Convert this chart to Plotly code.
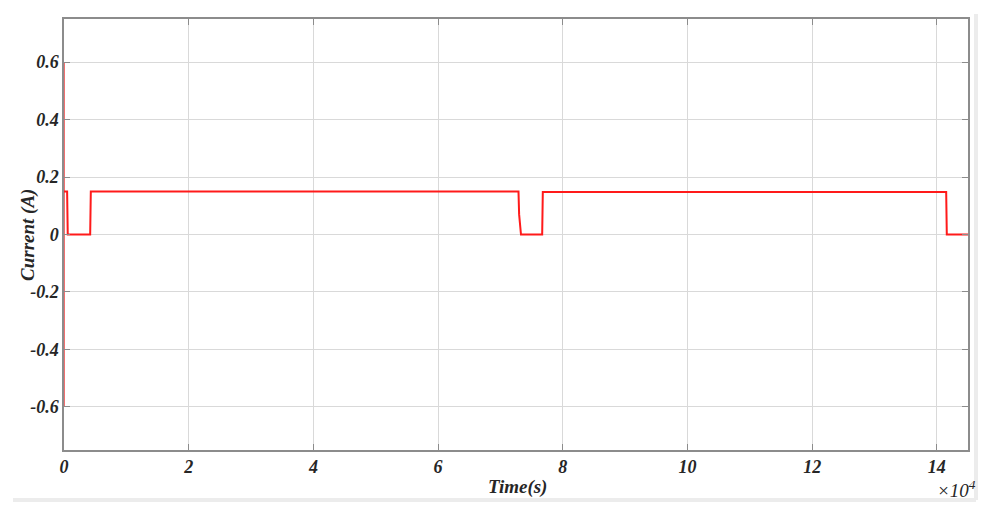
import plotly.graph_objects as go

# Time in units of 1e4 s, current in A
spike_time = [0, 0, 0]
spike_current = [0.6, -0.6, 0.15]

time_1e4 = [0, 0.05, 0.06, 0.42, 0.43, 7.29, 7.30, 7.32, 7.33, 7.67, 7.68, 14.15, 14.16, 14.5]
current_a = [0.15, 0.15, 0.0, 0.0, 0.15, 0.15, 0.07, 0.0, 0.0, 0.0, 0.148, 0.148, 0.0, 0.0]

x_ticks = [0, 2, 4, 6, 8, 10, 12, 14]
y_ticks = [-0.6, -0.4, -0.2, 0, 0.2, 0.4, 0.6]
y_tick_text = ["-0.6", "-0.4", "-0.2", "0", "0.2", "0.4", "0.6"]

FONT = "Liberation Serif"
TXT = "#262626"

fig = go.Figure()
fig.add_trace(go.Scatter(x=spike_time, y=spike_current, mode="lines",
                         line=dict(color="#f07070", width=2), showlegend=False))
fig.add_trace(go.Scatter(x=time_1e4, y=current_a, mode="lines",
                         line=dict(color="#ff1a1a", width=2), showlegend=False))

axis_common = dict(showgrid=True, gridcolor="#d9d9d9", gridwidth=1,
                   showline=True, linecolor="#8c8c8c", linewidth=1.5, mirror="ticks",
                   ticks="inside", ticklen=6, tickcolor="#8c8c8c", zeroline=False,
                   automargin=False,
                   tickfont=dict(family=FONT, size=18, color=TXT))

fig.update_xaxes(range=[0, 14.5], tickvals=x_ticks, ticktext=[f"<b><i>{v}</i></b>" for v in x_ticks],
                 ticklabelstandoff=0, **axis_common)
fig.update_yaxes(range=[-0.75, 0.75], tickvals=y_ticks, ticktext=[f"<b><i>{t}</i></b>" for t in y_tick_text],
                 ticklabelstandoff=0, **axis_common)

# screen pixel -> paper coordinates (plot area spans 64..968 x, 19..450 y on screen)
def px(p):
    return (p - 64) / 904
def py(p):
    return (450 - p) / 431

fig.add_shape(type="line", xref="paper", yref="paper", x0=px(976), x1=px(976), y0=py(14), y1=py(500),
              line=dict(color="#ececec", width=4))
fig.add_shape(type="line", xref="paper", yref="paper", x0=px(13), x1=px(976), y0=py(500), y1=py(500),
              line=dict(color="#ececec", width=4))

fig.add_annotation(xref="paper", yref="paper", x=px(518), y=py(487), text="<b><i>Time(s)</i></b>",
                   xanchor="center", yanchor="middle",
                   showarrow=False, font=dict(family=FONT, size=19, color=TXT))
fig.add_annotation(xref="paper", yref="paper", x=px(28), y=py(235), text="<b><i>Current (A)</i></b>",
                   xanchor="center", yanchor="middle",
                   textangle=-90, showarrow=False, font=dict(family=FONT, size=19, color=TXT))
fig.add_annotation(xref="paper", yref="paper", x=px(956), y=py(489), text="<i>×10<sup>4</sup></i>",
                   xanchor="center", yanchor="middle",
                   showarrow=False, font=dict(family=FONT, size=19, color=TXT))

# body has an 8px margin, so offset the figure margins by it
fig.update_layout(width=1000, height=514, margin=dict(l=56, r=40, t=11, b=72),
                  plot_bgcolor="white", paper_bgcolor="white")

fig.write_html("out.html")
